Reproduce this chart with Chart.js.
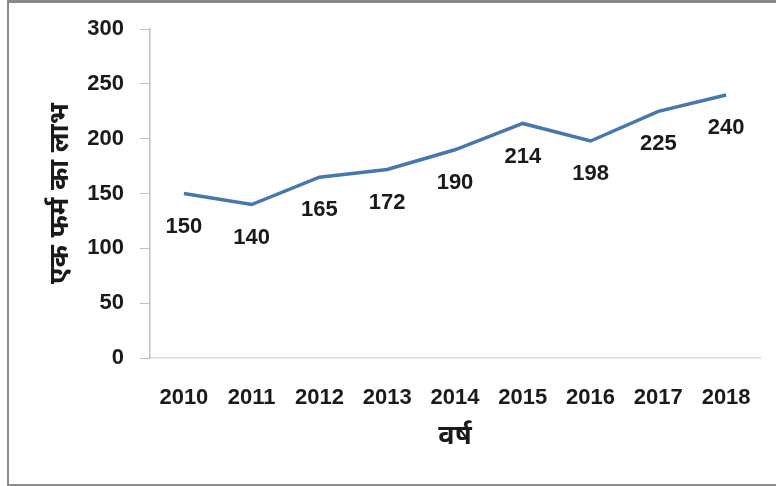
<!DOCTYPE html>
<html>
<head>
<meta charset="utf-8">
<script src="https://cdn.jsdelivr.net/npm/chart.js@4.4.0/dist/chart.umd.min.js"></script>
<style>
  html, body { margin: 0; padding: 0; background: #fff; }
  #wrap { position: relative; width: 776px; height: 486px; overflow: hidden; }
  #frame {
    position: absolute; left: 7px; top: 0; width: 800px; height: 481px;
    border-top: 3px solid #8a8a8a; border-left: 2px solid #8a8a8a; border-bottom: 2px solid #8a8a8a;
  }
  canvas { position: absolute; left: 0; top: 0; }
</style>
</head>
<body>
<div id="wrap">
  <div id="frame"></div>
  <canvas id="chart" width="776" height="486"></canvas>
</div>
<script>
const years = ["2010", "2011", "2012", "2013", "2014", "2015", "2016", "2017", "2018"];
const profit = [150, 140, 165, 172, 190, 214, 198, 225, 240];
const yTitle = "एक फर्म का लाभ";
const xTitle = "वर्ष";

const fontFamily = "'Liberation Sans', 'Noto Sans', 'Noto Sans Devanagari', sans-serif";

// labels under every point, placed with the dataset's own element positions
const pointLabels = {
  id: "pointLabels",
  afterDatasetsDraw(chart) {
    const ctx = chart.ctx;
    const meta = chart.getDatasetMeta(0);
    ctx.save();
    ctx.font = "bold 22px " + fontFamily;
    ctx.fillStyle = "#1a1a1a";
    ctx.textAlign = "center";
    ctx.textBaseline = "middle";
    meta.data.forEach((pt, i) => {
      ctx.fillText(String(profit[i]), pt.x, pt.y + 33);
    });
    ctx.restore();
  },
};

new Chart(document.getElementById("chart"), {
  type: "line",
  data: {
    labels: years,
    datasets: [
      {
        data: profit,
        borderColor: "#4677ad",
        borderWidth: 3.5,
        pointRadius: 0,
        tension: 0,
        fill: false,
      },
    ],
  },
  plugins: [pointLabels],
  options: {
    responsive: false,
    animation: false,
    layout: { padding: { left: 0, top: 28, right: 16, bottom: 0 } },
    plugins: {
      legend: { display: false },
      tooltip: { enabled: false },
    },
    scales: {
      x: {
        offset: true,
        afterFit: (scale) => { scale.height = 128; },
        grid: { display: false },
        border: { display: true, color: "#d9d9d9", width: 1.5 },
        ticks: {
          padding: 19,
          color: "#1a1a1a",
          font: { family: fontFamily, size: 22, weight: "bold" },
        },
        title: {
          display: true,
          text: xTitle,
          color: "#1a1a1a",
          padding: { top: 0, bottom: 33 },
          font: { family: fontFamily, size: 27, weight: "bold" },
        },
      },
      y: {
        min: 0,
        max: 300,
        afterFit: (scale) => { scale.width = 150; },
        grid: {
          display: true,
          drawOnChartArea: false,
          drawTicks: true,
          tickLength: 10,
          color: "#c0c0c0",
        },
        border: { display: true, color: "#c0c0c0", width: 1.5 },
        ticks: {
          stepSize: 50,
          padding: 16,
          color: "#1a1a1a",
          font: { family: fontFamily, size: 22, weight: "bold" },
        },
        title: {
          display: true,
          text: yTitle,
          color: "#1a1a1a",
          padding: { top: 44, bottom: 0 },
          font: { family: fontFamily, size: 27, weight: "bold" },
        },
      },
    },
  },
});
</script>
</body>
</html>
